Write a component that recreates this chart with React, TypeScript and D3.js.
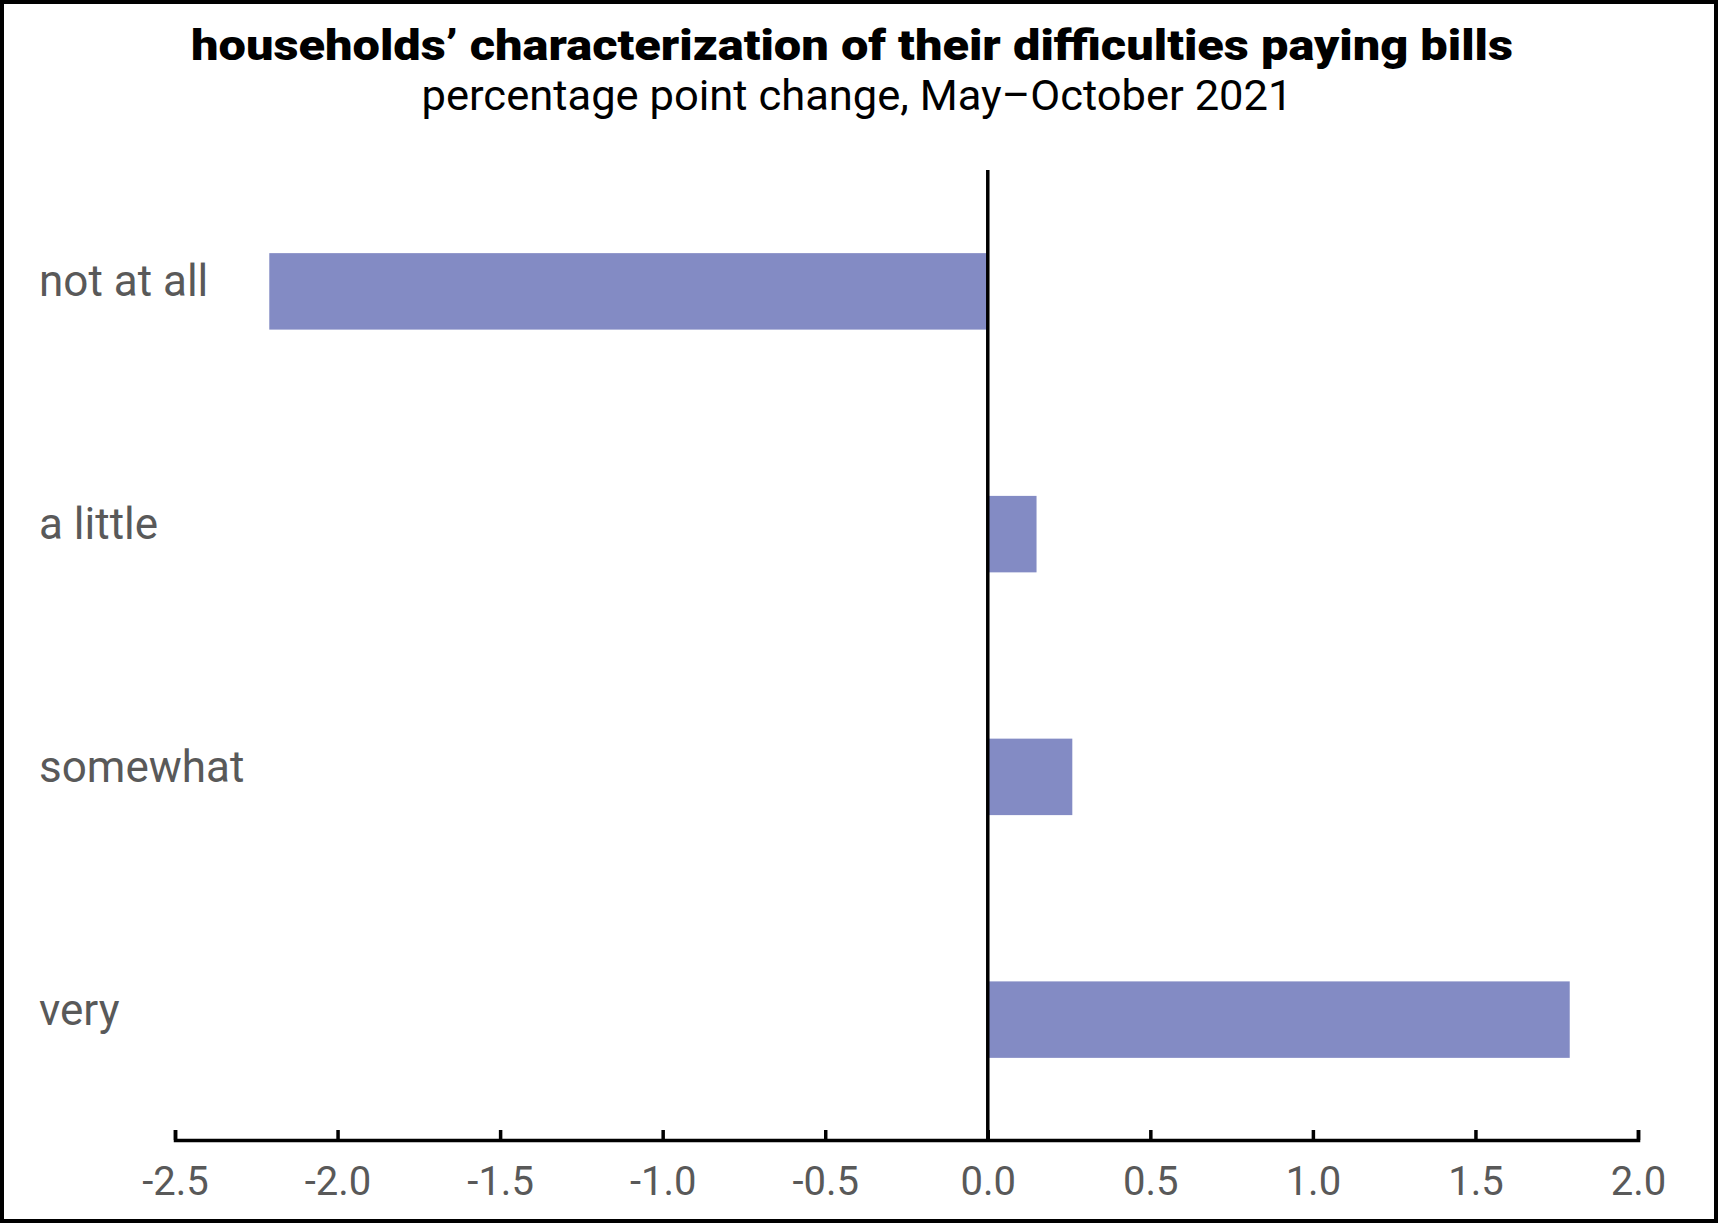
import { useEffect, useRef } from "react";
import * as d3 from "d3";

const categories = ["not at all", "a little", "somewhat", "very"];
const changes = [-2.21, 0.15, 0.26, 1.79];
const tickValues = [-2.5, -2.0, -1.5, -1.0, -0.5, 0.0, 0.5, 1.0, 1.5, 2.0];

const title = "households\u2019 characterization of their difficulties paying bills";
const subtitle = "percentage point change, May\u2013October 2021";

const dims = { w: 1720, h: 1224 };
const plot = { left: 175, right: 1638, top: 170, bottom: 1141 };

const BAR = "#838bc4";
const GREY = "#595959";

const App = () => {
  const svgRef = useRef(null);

  useEffect(() => {
    document.body.style.margin = "0";
    const svg = d3.select(svgRef.current);
    svg.selectAll("*").remove();

    svg.attr("width", dims.w).attr("height", dims.h);

    // outer frame
    svg
      .append("rect")
      .attr("x", 2)
      .attr("y", 2)
      .attr("width", dims.w - 6)
      .attr("height", dims.h - 5)
      .attr("fill", "#fff")
      .attr("stroke", "#000")
      .attr("stroke-width", 4);

    // titles (condensed look via textLength)
    svg
      .append("text")
      .attr("x", 852)
      .attr("y", 60)
      .attr("text-anchor", "middle")
      .attr("font-family", "Roboto, sans-serif")
      .attr("font-weight", 900)
      .attr("font-size", 42)
      .attr("textLength", 1322)
      .attr("lengthAdjust", "spacingAndGlyphs")
      .attr("fill", "#000")
      .text(title);

    svg
      .append("text")
      .attr("x", 857)
      .attr("y", 110)
      .attr("text-anchor", "middle")
      .attr("font-family", "Roboto, sans-serif")
      .attr("font-size", 43)
      .attr("textLength", 871)
      .attr("lengthAdjust", "spacingAndGlyphs")
      .attr("fill", "#000")
      .text(subtitle);

    // scales
    const xScale = d3
      .scaleLinear()
      .domain([-2.5, 2])
      .range([plot.left, plot.right]);
    const yScale = d3
      .scaleBand()
      .domain(categories)
      .range([plot.top, plot.bottom])
      .paddingInner(0.685)
      .paddingOuter(0.3425);

    // bars
    svg
      .selectAll(".bar")
      .data(categories)
      .join("rect")
      .attr("class", "bar")
      .attr("x", (d, i) => xScale(Math.min(0, changes[i])))
      .attr("y", (d) => yScale(d))
      .attr("width", (d, i) => Math.abs(xScale(changes[i]) - xScale(0)))
      .attr("height", yScale.bandwidth())
      .attr("fill", BAR);

    // category labels
    svg
      .selectAll(".cat")
      .data(categories)
      .join("text")
      .attr("class", "cat")
      .attr("x", 39)
      .attr("y", (d) => yScale(d) + yScale.bandwidth() / 2 + 5)
      .attr("font-family", "Roboto, sans-serif")
      .attr("font-size", 44)
      .attr("fill", GREY)
      .text((d) => d);

    // x axis with inward ticks
    const xAxis = d3
      .axisBottom(xScale)
      .tickValues(tickValues)
      .tickFormat(d3.format(".1f"))
      .tickSizeInner(-10)
      .tickSizeOuter(-10)
      .tickPadding(27);

    const gx = svg
      .append("g")
      .attr("transform", `translate(0,${plot.bottom - 1})`)
      .call(xAxis);
    gx.select(".domain").attr("stroke", "#000").attr("stroke-width", 3.5);
    gx.selectAll(".tick line").attr("stroke", "#000").attr("stroke-width", 3.5);
    gx.selectAll(".tick text")
      .attr("font-family", "Roboto, sans-serif")
      .attr("font-size", 40)
      .attr("fill", GREY)
      .text((d) => d3.format(".1f")(d).replace("\u2212", "-"));

    // zero line
    svg
      .append("line")
      .attr("x1", xScale(0))
      .attr("x2", xScale(0))
      .attr("y1", plot.top)
      .attr("y2", plot.bottom - 1)
      .attr("stroke", "#000")
      .attr("stroke-width", 3.5);
  }, []);

  return <svg ref={svgRef} style={{ display: "block" }}></svg>;
};

export default App;
